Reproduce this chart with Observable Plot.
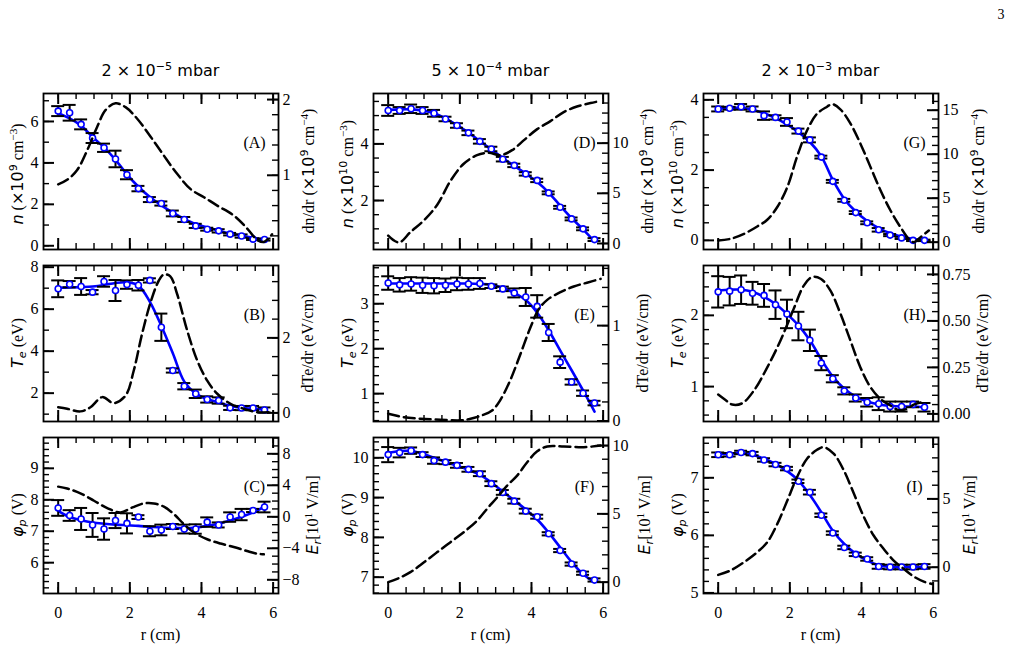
<!DOCTYPE html>
<html><head><meta charset="utf-8">
<script src="https://cdn.jsdelivr.net/npm/d3@7"></script>
<script src="https://cdn.jsdelivr.net/npm/@observablehq/plot@0.6"></script>
<style>
body{margin:0;background:#fff;}
#fig{position:relative;width:1015px;height:651px;overflow:hidden;font-family:"Liberation Serif",serif;color:#000;background:#fff;}
.pl{position:absolute;}
.pl svg{display:block;overflow:visible;}
.ylab{position:absolute;white-space:nowrap;font-size:16px;line-height:16px;transform:translate(-50%,-50%) rotate(-90deg);}
.m{font-family:"DejaVu Sans";}
sup,sub{font-size:0.7em;line-height:0;}
sup{vertical-align:0.5em;} sub{vertical-align:-0.3em;}
.title{position:absolute;font-family:"DejaVu Sans";font-size:16px;line-height:16px;transform:translateX(-50%);white-space:nowrap;}
.xl{position:absolute;font-size:16px;line-height:16px;transform:translate(-50%,-50%);white-space:nowrap;}
</style></head>
<body><div id="fig"></div>
<script>
// ---------- data ----------
const r = [0,0.32,0.64,0.96,1.28,1.6,1.92,2.24,2.56,2.88,3.2,3.52,3.84,4.16,4.48,4.8,5.12,5.44,5.76];

const nA    = [6.5,6.42,5.86,5.2,4.73,4.19,3.43,2.76,2.23,2.04,1.56,1.27,0.96,0.8,0.72,0.56,0.47,0.32,0.3];
const nAerr = [0.24,0.38,0.24,0.24,0.2,0.4,0.22,0.13,0.12,0.1,0.14,0.12,0.1,0.07,0.08,0.06,0.08,0.04,0.05];
const nAfit = [6.4,6.15,5.8,5.25,4.75,4.15,3.45,2.85,2.35,1.95,1.6,1.3,1.05,0.88,0.73,0.6,0.48,0.38,0.3];
const dnA = [[0,0.88],[0.25,0.94],[0.53,1.07],[0.81,1.33],[1.09,1.64],[1.32,1.86],[1.6,1.95],[1.88,1.9],[2.2,1.75],[2.58,1.51],[2.95,1.26],[3.32,1.02],[3.69,0.82],[4.07,0.71],[4.44,0.6],[4.9,0.47],[5.27,0.3],[5.55,0.15],[5.74,0.12],[5.97,0.22]];

const TeB    = [6.97,7.19,7.08,6.81,7.32,6.89,7.17,7.14,7.37,5.14,3.08,2.33,1.97,1.7,1.65,1.3,1.29,1.29,1.2];
const TeBerr = [0.4,0.15,0.4,0.1,0.25,0.5,0.2,0.25,0.1,0.65,0.1,0.15,0.2,0.15,0.15,0.1,0.1,0.1,0.12];
const TeBfit = [7.02,7.03,7.05,7.08,7.15,7.25,7.28,7.12,6.35,5.2,3.9,2.55,1.98,1.72,1.55,1.4,1.3,1.25,1.22];
const dTeB = [[0,0.15],[0.25,0.11],[0.62,0.04],[0.9,0.15],[1.23,0.42],[1.55,0.26],[1.88,0.46],[2.11,1.13],[2.34,2.1],[2.58,2.95],[2.81,3.53],[2.95,3.69],[3.13,3.64],[3.32,3.17],[3.6,2.2],[3.88,1.4],[4.16,0.86],[4.44,0.51],[4.81,0.24],[5.18,0.11],[5.55,0.02],[5.93,0.02]];

const phC    = [7.74,7.5,7.39,7.2,7.07,7.34,7.25,7.45,7.0,7.04,7.15,7.07,7.07,7.29,7.2,7.45,7.53,7.66,7.77];
const phCerr = [0.25,0.17,0.35,0.38,0.34,0.24,0.32,0.06,0.16,0.17,0.08,0.14,0.15,0.15,0.08,0.15,0.18,0.05,0.17];
const phCfit = [7.65,7.45,7.35,7.28,7.24,7.21,7.19,7.17,7.14,7.12,7.1,7.1,7.12,7.17,7.24,7.34,7.46,7.6,7.78];
const ErC = [[0,3.83],[0.25,3.6],[0.62,2.98],[1.0,2.04],[1.37,1.1],[1.74,0.55],[2.07,1.19],[2.39,1.7],[2.67,1.7],[2.95,1.28],[3.23,0.34],[3.51,-0.94],[3.79,-2.0],[4.16,-2.85],[4.53,-3.4],[4.9,-3.83],[5.27,-4.34],[5.55,-4.68],[5.74,-4.77]];

const nD    = [5.18,5.18,5.24,5.18,5.08,4.88,4.65,4.39,4.09,3.82,3.46,3.24,2.94,2.71,2.27,1.76,1.35,1.0,0.62];
const nDerr = [0.19,0.12,0.15,0.12,0.12,0.08,0.08,0.08,0.08,0.08,0.08,0.06,0.06,0.06,0.05,0.05,0.05,0.05,0.05];
const nDfit = [5.2,5.22,5.22,5.18,5.08,4.9,4.66,4.4,4.1,3.8,3.5,3.22,2.95,2.65,2.28,1.82,1.38,0.98,0.55];
const dnD = [[0,0.78],[0.3,0.1],[0.62,1.13],[1.0,2.32],[1.37,3.86],[1.74,6.25],[2.11,7.95],[2.48,8.8],[2.81,9.04],[3.13,8.8],[3.46,9.3],[3.79,10.3],[4.16,11.4],[4.53,12.2],[4.9,13.1],[5.27,13.65],[5.65,14.0],[5.93,14.2]];

const TeE    = [3.46,3.42,3.44,3.41,3.4,3.41,3.44,3.44,3.45,3.39,3.33,3.24,3.15,2.94,2.36,1.7,1.26,1.01,0.79];
const TeEerr = [0.15,0.15,0.15,0.17,0.17,0.15,0.14,0.13,0.12,0.04,0.05,0.1,0.2,0.25,0.19,0.13,0.06,0.06,0.05];
const TeEfit = [3.45,3.45,3.45,3.45,3.45,3.45,3.45,3.45,3.44,3.42,3.35,3.24,3.08,2.8,2.41,1.96,1.52,1.07,0.6];
const dTeE = [[0,0.077],[0.44,0.04],[0.9,0.024],[1.46,0.014],[2.02,0.007],[2.3,0.024],[2.62,0.06],[2.9,0.11],[3.13,0.22],[3.41,0.43],[3.69,0.7],[3.97,0.98],[4.2,1.17],[4.44,1.27],[4.81,1.35],[5.18,1.41],[5.55,1.45],[5.93,1.49]];

const phF    = [10.08,10.13,10.18,10.08,9.93,9.89,9.81,9.71,9.6,9.35,9.13,8.91,8.66,8.52,8.09,7.67,7.33,7.1,6.93];
const phFerr = [0.19,0.12,0.08,0.06,0.08,0.05,0.06,0.06,0.06,0.06,0.06,0.06,0.06,0.05,0.04,0.04,0.04,0.04,0.04];
const phFfit = [10.12,10.17,10.17,10.1,10.0,9.9,9.8,9.7,9.57,9.38,9.15,8.93,8.7,8.45,8.12,7.75,7.38,7.08,6.87];
const ErF = [[0,0],[0.25,0.24],[0.62,0.73],[1.0,1.46],[1.37,2.2],[1.74,2.93],[2.11,3.66],[2.48,4.5],[2.76,5.37],[3.04,6.2],[3.32,7.07],[3.6,7.8],[3.88,8.78],[4.16,9.58],[4.44,9.93],[4.9,9.93],[5.46,9.88],[5.93,10.0]];

const nG    = [3.74,3.76,3.8,3.74,3.55,3.5,3.37,3.11,2.86,2.37,1.68,1.14,0.79,0.5,0.3,0.15,0.07,0.0,0.0];
const nGerr = [0.07,0.04,0.08,0.07,0.12,0.06,0.11,0.07,0.07,0.04,0.04,0.04,0.04,0.04,0.05,0.03,0.03,0.02,0.02];
const nGfit = [3.75,3.77,3.77,3.72,3.62,3.48,3.3,3.08,2.8,2.39,1.72,1.18,0.82,0.55,0.35,0.2,0.1,0.04,0.0];
const dnG = [[0,0.19],[0.34,0.38],[0.72,0.95],[1.09,1.79],[1.37,2.55],[1.65,4.0],[1.93,6.27],[2.2,9.7],[2.48,12.7],[2.76,14.6],[3.04,15.4],[3.18,15.7],[3.41,15.1],[3.69,13.5],[3.97,11.2],[4.25,8.56],[4.53,5.9],[4.81,3.6],[5.09,1.7],[5.32,0.38],[5.46,0],[5.65,0.57],[5.88,1.33]];

const TeH    = [2.33,2.34,2.36,2.31,2.28,2.15,2.02,1.85,1.65,1.33,1.11,0.94,0.84,0.78,0.76,0.72,0.72,0.75,0.71];
const TeHerr = [0.22,0.2,0.2,0.16,0.16,0.2,0.2,0.2,0.15,0.1,0.05,0.05,0.05,0.06,0.09,0.07,0.07,0.04,0.06];
const TeHfit = [2.35,2.36,2.36,2.33,2.26,2.16,2.02,1.86,1.65,1.38,1.14,0.97,0.86,0.79,0.75,0.73,0.72,0.72,0.71];
const dTeH = [[0,0.104],[0.25,0.068],[0.39,0.05],[0.67,0.057],[1.0,0.126],[1.37,0.25],[1.74,0.395],[2.11,0.566],[2.39,0.69],[2.62,0.736],[2.86,0.727],[3.13,0.664],[3.41,0.54],[3.69,0.395],[3.97,0.25],[4.25,0.144],[4.53,0.08],[4.81,0.045],[5.04,0.02],[5.27,0.027],[5.46,0.05],[5.69,0.063]];

const phI    = [7.4,7.4,7.44,7.42,7.31,7.23,7.16,6.94,6.75,6.35,6.04,5.79,5.67,5.59,5.46,5.45,5.45,5.45,5.46];
const phIerr = [0.04,0.03,0.03,0.03,0.03,0.03,0.03,0.03,0.04,0.03,0.03,0.03,0.03,0.03,0.04,0.04,0.04,0.04,0.04];
const phIfit = [7.41,7.42,7.43,7.4,7.33,7.24,7.12,6.95,6.7,6.4,6.08,5.85,5.68,5.56,5.48,5.45,5.45,5.45,5.46];
const ErI = [[0,-0.56],[0.34,-0.24],[0.72,0.37],[1.09,1.1],[1.37,1.83],[1.65,3.17],[1.93,4.88],[2.2,6.59],[2.48,7.93],[2.76,8.59],[2.95,8.78],[3.23,8.29],[3.51,7.07],[3.79,5.37],[4.07,3.66],[4.34,2.32],[4.62,1.34],[4.9,0.49],[5.18,-0.12],[5.46,-0.68],[5.74,-1.05],[5.97,-1.22]];

const xTicks = [0,2,4,6];
const titles = ["2 × 10<sup>−5</sup> mbar","5 × 10<sup>−4</sup> mbar","2 × 10<sup>−3</sup> mbar"];

// ---------- labels ----------
const LAB = {
  n9:  '<span class="m"><i>n</i></span> (<span class="m">×10<sup>9</sup></span> cm<sup>−3</sup>)',
  n10: '<span class="m"><i>n</i></span> (<span class="m">×10<sup>10</sup></span> cm<sup>−3</sup>)',
  dn:  'dn/dr (<span class="m">×10<sup>9</sup></span> cm<sup>−4</sup>)',
  Te:  '<span class="m"><i>T</i><sub><i>e</i></sub></span> (eV)',
  dTe: 'dTe/dr (eV/cm)',
  phi: '<span class="m"><i>φ</i><sub><i>p</i></sub></span> (V)',
  Er:  '<span class="m"><i>E</i><sub><i>r</i></sub></span>[10<sup>1</sup> V/m]'
};

const fmtMinus = d => (d < 0 ? "\u2212" : "") + Math.abs(d);
const fmt2 = d3.format(".2f");

const panels = [
 {c:0,w:0,tag:"(A)",v:nA,e:nAerr,fit:nAfit,dash:dnA,yL:[-0.18,7.35],lMaj:[0,2,4,6],lMin:1,yR:[0.02,2.08],rMaj:[1,2],rMin:0.2,lLab:LAB.n9,rLab:LAB.dn,rOff:31,lDy:3},
 {c:0,w:1,tag:"(B)",v:TeB,e:TeBerr,fit:TeBfit,dash:dTeB,yL:[0.65,8.08],lMaj:[2,4,6,8],lMin:1,yR:[-0.23,3.93],rMaj:[0,2],rMin:0.5,lLab:LAB.Te,rLab:LAB.dTe,rOff:30,lDy:0},
 {c:0,w:2,tag:"(C)",v:phC,e:phCerr,fit:phCfit,dash:ErC,yL:[5.02,9.98],lMaj:[6,7,8,9],lMin:0.2,yR:[-9.74,10.07],rMaj:[-8,-4,0,4,8],rMin:1,lLab:LAB.phi,rLab:LAB.Er,rOff:35,lDy:0},
 {c:1,w:0,tag:"(D)",v:nD,e:nDerr,fit:nDfit,dash:dnD,yL:[0.27,5.78],lMaj:[2,4],lMin:0.5,yR:[-0.6,14.95],rMaj:[0,5,10],rMin:1,lLab:LAB.n10,rLab:LAB.dn,rOff:40,lDy:3},
 {c:1,w:1,tag:"(E)",v:TeE,e:TeEerr,fit:TeEfit,dash:dTeE,yL:[0.38,3.85],lMaj:[1,2,3],lMin:0.2,yR:[-0.005,1.63],rMaj:[0,1],rMin:0.2,lLab:LAB.Te,rLab:LAB.dTe,rOff:35,lDy:0},
 {c:1,w:2,tag:"(F)",v:phF,e:phFerr,fit:phFfit,dash:ErF,yL:[6.59,10.51],lMaj:[7,8,9,10],lMin:0.2,yR:[-0.83,10.59],rMaj:[0,5,10],rMin:1,lLab:LAB.phi,rLab:LAB.Er,rOff:37,lDy:0},
 {c:2,w:0,tag:"(G)",v:nG,e:nGerr,fit:nGfit,dash:dnG,yL:[-0.26,4.18],lMaj:[0,2,4],lMin:0.5,yR:[-0.83,16.9],rMaj:[0,5,10,15],rMin:1,lLab:LAB.n10,rLab:LAB.dn,rOff:41,lDy:3},
 {c:2,w:1,tag:"(H)",v:TeH,e:TeHerr,fit:TeHfit,dash:dTeH,yL:[0.51,2.7],lMaj:[1,2],lMin:0.2,yR:[-0.041,0.798],rMaj:[0,0.25,0.5,0.75],rMin:0.05,rFmt:fmt2,lLab:LAB.Te,rLab:LAB.dTe,rOff:45,lDy:0},
 {c:2,w:2,tag:"(I)",v:phI,e:phIerr,fit:phIfit,dash:ErI,yL:[4.99,7.7],lMaj:[5,6,7],lMin:0.2,yR:[-1.92,9.49],rMaj:[0,5],rMin:1,lLab:LAB.phi,rLab:LAB.Er,rOff:32,lDy:0}
];

// ---------- layout ----------
const FL = [43,373,703], FT = [93,265,437], W = 235, H = 156;
const ML = 45, MR = 55, MT = 15, MB = 45;
const xDomain = [-0.41, 6.15];
const MAJ = 11, MIN = 6;

function minorTicks(dom, step) {
  const a = Math.ceil(dom[0]/step - 1e-9), b = Math.floor(dom[1]/step + 1e-9);
  return d3.range(a, b + 1).map(k => +(k*step).toFixed(6));
}
const xMinor = minorTicks(xDomain, 0.5);
const STYLE = {background:"transparent", fontFamily:"Liberation Serif", fontSize:"16px", color:"black", overflow:"visible"};

const fig = document.getElementById("fig");
function place(svg, left, top) {
  const d = document.createElement("div");
  d.className = "pl";
  d.style.left = left + "px"; d.style.top = top + "px";
  d.style.width = (W+ML+MR) + "px"; d.style.height = (H+MT+MB) + "px";
  d.appendChild(svg); fig.appendChild(d);
}
function html(cls, inner, css) {
  const d = document.createElement("div");
  d.className = cls; d.innerHTML = inner;
  Object.assign(d.style, css); fig.appendChild(d);
}

panels.forEach(p => {
  const pts = r.map((x, i) => ({r: x, v: p.v[i], lo: p.v[i] - p.e[i], hi: p.v[i] + p.e[i], f: p.fit[i]}));
  const bottom = p.w === 2;
  const common = {width: W+ML+MR, height: H+MT+MB, marginLeft: ML, marginRight: MR, marginTop: MT, marginBottom: MB, style: STYLE};

  const left = Plot.plot({
    ...common,
    x: {domain: xDomain, axis: null},
    y: {domain: p.yL, axis: null},
    marks: [
      Plot.tickX(xTicks, {x: d => d, insetTop: H - MAJ, stroke: "black", strokeWidth: 2}),
      Plot.tickX(xMinor, {x: d => d, insetTop: H - MIN, stroke: "black", strokeWidth: 1.4}),
      Plot.tickX(xTicks, {x: d => d, insetBottom: H - MAJ, stroke: "black", strokeWidth: 2}),
      Plot.tickX(xMinor, {x: d => d, insetBottom: H - MIN, stroke: "black", strokeWidth: 1.4}),
      Plot.tickY(p.lMaj, {y: d => d, insetRight: W - MAJ, stroke: "black", strokeWidth: 2}),
      Plot.tickY(minorTicks(p.yL, p.lMin), {y: d => d, insetRight: W - MIN, stroke: "black", strokeWidth: 1.4}),
      Plot.axisY({anchor: "left", ticks: p.lMaj, tickSize: 0, tickPadding: 5, label: null, tickFormat: fmtMinus}),
      bottom ? Plot.axisX({anchor: "bottom", ticks: xTicks, tickSize: 0, tickPadding: 13, label: null, tickFormat: fmtMinus}) : null,
      Plot.line(pts, {x: "r", y: "f", stroke: "#0000ff", strokeWidth: 2.6, curve: "catmull-rom"}),
      Plot.ruleX(pts, {x: "r", y1: "lo", y2: "hi", stroke: "black", strokeWidth: 2}),
      Plot.ruleY(pts, {y: "hi", x1: "r", x2: "r", insetLeft: -6.5, insetRight: -6.5, stroke: "black", strokeWidth: 2}),
      Plot.ruleY(pts, {y: "lo", x1: "r", x2: "r", insetLeft: -6.5, insetRight: -6.5, stroke: "black", strokeWidth: 2}),
      Plot.dot(pts, {x: "r", y: "v", r: 3, stroke: "#0000ff", fill: "white", strokeWidth: 1.6}),
      Plot.text([p.tag], {frameAnchor: "top-right", dx: -24, dy: 49, textAnchor: "middle", lineAnchor: "middle", fontSize: 16, fill: "black"}),
      Plot.frame({stroke: "black", strokeWidth: 1.8})
    ]
  });

  const right = Plot.plot({
    ...common,
    x: {domain: xDomain, axis: null},
    y: {domain: p.yR, axis: null},
    marks: [
      Plot.tickY(p.rMaj, {y: d => d, insetLeft: W - MAJ, stroke: "black", strokeWidth: 2}),
      Plot.tickY(minorTicks(p.yR, p.rMin), {y: d => d, insetLeft: W - MIN, stroke: "black", strokeWidth: 1.4}),
      Plot.axisY({anchor: "right", ticks: p.rMaj, tickSize: 0, tickPadding: 4, label: null, tickFormat: p.rFmt || fmtMinus}),
      Plot.line(p.dash, {x: d => d[0], y: d => d[1], stroke: "black", strokeWidth: 2.5, strokeDasharray: "11,5", curve: "catmull-rom"})
    ]
  });

  const fl = FL[p.c], ft = FT[p.w];
  place(left, fl - ML, ft - MT);
  place(right, fl - ML, ft - MT);

  html("ylab", p.lLab, {left: (fl - 25.5) + "px", top: (ft + H/2 + p.lDy) + "px"});
  html("ylab", p.rLab, {left: (fl + W + p.rOff) + "px", top: (ft + H/2) + "px"});
});

// column titles and x labels
FL.forEach((fl, i) => {
  html("title", titles[i], {left: (fl + W/2) + "px", top: "63px"});
  html("xl", "r (cm)", {left: (fl + W/2) + "px", top: "635px"});
});
// page number
html("xl", "3", {left: "1001px", top: "15px", fontSize: "14px"});
</script></body></html>
